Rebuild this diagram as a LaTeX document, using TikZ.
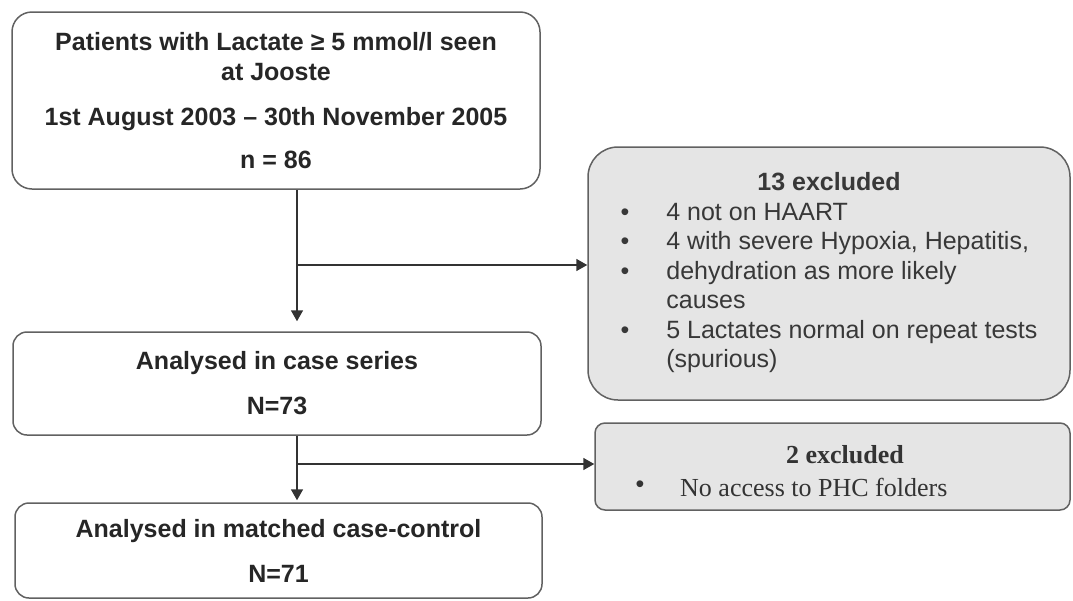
\documentclass[tikz,border=0pt]{standalone}
\usepackage{fontspec}
\setmainfont{Liberation Sans}
\newfontfamily\serifb{Liberation Serif}
\usetikzlibrary{arrows.meta,calc}
\begin{document}
\begin{tikzpicture}[x=1pt,y=-1pt,
  box/.style={draw=black!62, line width=1.5pt, rounded corners=#1, align=center, inner sep=0pt, text=black!85},
  box/.default=16pt,
  graybox/.style={box=#1, fill=black!10},
  conn/.style={draw=black!80, line width=1.6pt, -{Triangle[length=11pt,width=12pt]}},
  boldtxt/.style={font=\fontsize{25}{#1}\selectfont\bfseries},
  sertxt/.style={inner sep=0pt, text=black!80, font=\serifb\fontsize{26}{30}\selectfont},
]
\useasboundingbox (0,0) rectangle (1073,600);

% main column
\node[box=20pt, minimum width=528pt, minimum height=177pt, boldtxt=30] (pop) at (276,100.5)
  {Patients with Lactate ≥ 5 mmol/l seen\\at Jooste\\[15pt]1st August 2003 – 30th November 2005\\[13pt]n = 86};
\node[box=14pt, minimum width=528pt, minimum height=103pt, boldtxt=45] (cs) at (277,383.5)
  {Analysed in case series\\N=73};
\node[box=14pt, minimum width=527pt, minimum height=95pt, boldtxt=45] (cc) at (278.5,550.5)
  {Analysed in matched case-control\\N=71};

% exclusion boxes
\node[graybox=30pt, minimum width=482pt, minimum height=253pt, text=black!78,
      font=\fontsize{25}{29.5}\selectfont] (ex1) at (829,273.5)
  {\begin{tabular}{@{}c@{\hspace{37pt}}l@{}}
   \multicolumn{2}{c}{\bfseries 13 excluded}\\
   \textbullet & 4 not on HAART\\
   \textbullet & 4 with severe Hypoxia, Hepatitis,\\
   \textbullet & dehydration as more likely\\
               & causes\\
   \textbullet & 5 Lactates normal on repeat tests\\
               & (spurious)
   \end{tabular}};
\node[graybox=10pt, minimum width=475pt, minimum height=87pt] (ex2) at (832.5,466.5) {};
\node[sertxt, font=\serifb\fontsize{26}{30}\selectfont\bfseries] (ex2t) at (845,455) {2 excluded};
\node[inner sep=0pt, text=black!80, font=\fontsize{25}{30}\selectfont] (ex2b) at (640,487) {\textbullet};
\node[sertxt, anchor=west] (ex2i) at (680,487) {No access to PHC folders};

% connectors
\coordinate (j1) at (297,265);
\coordinate (j2) at (297,464);
\draw[conn, shorten >=10pt] (pop.south -| j1) -- (cs.north -| j1);
\draw[conn] (j1) -- (j1 -| ex1.west);
\draw[conn, shorten >=2pt] (cs.south -| j2) -- (cc.north -| j2);
\draw[conn] (j2) -- (j2 -| ex2.west);
\end{tikzpicture}
\end{document}
